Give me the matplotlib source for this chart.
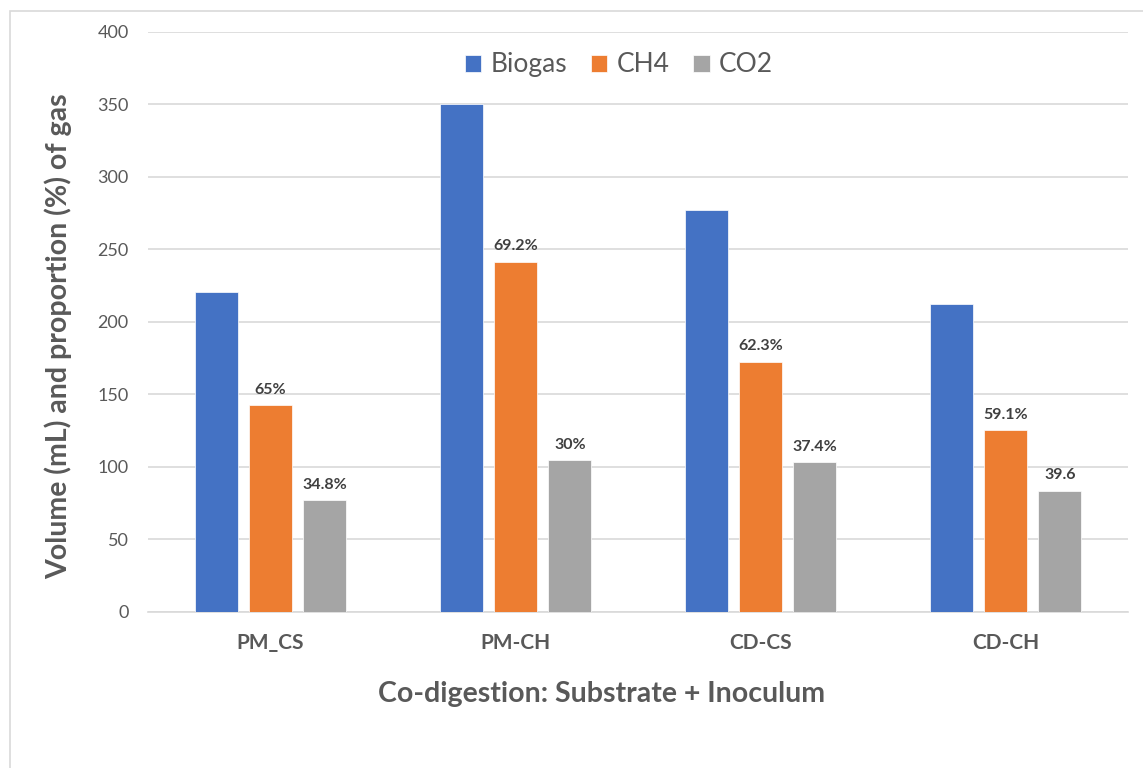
import numpy as np
import matplotlib.pyplot as plt
from matplotlib.patches import Rectangle

# gas yield per co-digestion run
groups = ["PM_CS", "PM-CH", "CD-CS", "CD-CH"]
series = ["Biogas", "CH4", "CO2"]
biogas = [220.7, 349.9, 277.2, 212.4]
ch4 = [142.3, 241.4, 172.4, 125.1]
co2 = [76.8, 104.4, 103.0, 83.4]
ch4_labels = ["65%", "69.2%", "62.3%", "59.1%"]
co2_labels = ["34.8%", "30%", "37.4%", "39.6"]

colors = ["#4472C4", "#ED7D31", "#A5A5A5"]
txt = "#595959"

plt.rcParams["font.family"] = ["Lato", "DejaVu Sans"]

fig = plt.figure(figsize=(11.43, 7.68), dpi=100)
fig.patches.append(Rectangle((10 / 1143, -0.1), 1.2, 1 - 11 / 768 + 0.1,
                             transform=fig.transFigure, fill=False,
                             edgecolor="#D9D9D9", linewidth=1.2))
ax = fig.add_axes([148 / 1143, 1 - 611.7 / 768, 980 / 1143, 580 / 768])

x = np.arange(len(groups))
w = 0.176
step = 0.222
bars = []
for i, (vals, name) in enumerate(zip([biogas, ch4, co2], series)):
    b = ax.bar(x + (i - 1) * step, vals, w, color=colors[i], label=name,
               edgecolor="white", linewidth=0.5, zorder=3)
    bars.append(b)

for b, lab in zip(bars[1], ch4_labels):
    ax.text(b.get_x() + b.get_width() / 2, b.get_height() + 6, lab,
            ha="center", va="bottom", fontsize=11.5, fontweight="bold", color="#404040")
for b, lab in zip(bars[2], co2_labels):
    ax.text(b.get_x() + b.get_width() / 2, b.get_height() + 6, lab,
            ha="center", va="bottom", fontsize=11.5, fontweight="bold", color="#404040")

ax.set_xlim(-0.5, len(groups) - 0.5)
ax.set_ylim(0, 400)
ax.set_yticks(range(0, 401, 50))
ax.yaxis.grid(True, color="#D9D9D9", linewidth=1.2, zorder=0)
for s in ["top", "right", "left"]:
    ax.spines[s].set_visible(False)
ax.spines["bottom"].set_color("#D9D9D9")
ax.spines["bottom"].set_linewidth(1.2)
ax.tick_params(axis="both", length=0)
ax.tick_params(axis="y", labelsize=13, labelcolor=txt, pad=14)
ax.set_xticks(x)
ax.set_xticklabels(groups, fontsize=15, fontweight="bold", color=txt)
ax.tick_params(axis="x", pad=15)

# axis titles are centred on the whole chart frame, not the plot area
ax.set_ylabel("Volume (mL) and proportion (%) of gas", fontsize=20.5,
              fontweight="bold", color=txt)
ax.yaxis.set_label_coords(-0.0776, 0.475)
ax.set_xlabel("Co-digestion: Substrate + Inoculum", fontsize=20.5,
              fontweight="bold", color=txt)
ax.xaxis.set_label_coords(0.463, -0.1195)

leg = ax.legend(loc="center", bbox_to_anchor=(0.4806, 0.9426), ncol=3,
                frameon=True, facecolor="white", edgecolor="none",
                fontsize=19, handlelength=0.62, handleheight=0.62,
                handletextpad=0.35, columnspacing=0.9, borderpad=0.2)
for t in leg.get_texts():
    t.set_color(txt)

fig.savefig("out.png", dpi=100)
